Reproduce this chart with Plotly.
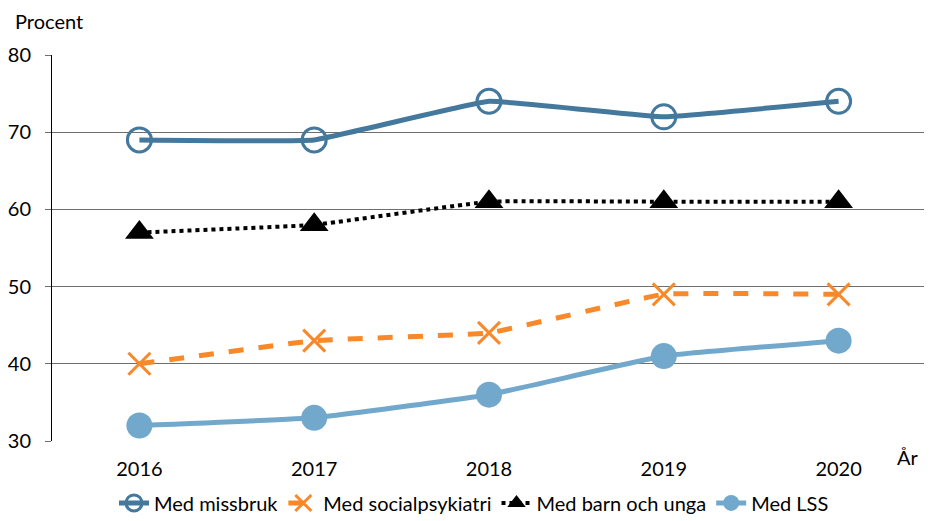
import plotly.graph_objects as go

years = ["2016", "2017", "2018", "2019", "2020"]
missbruk = [69, 69, 74, 72, 74]
socialpsykiatri = [40, 43, 44, 49, 49]
barn_unga = [57, 58, 61, 61, 61]
lss = [32, 33, 36, 41, 43]

fig = go.Figure()
fig.add_trace(go.Scatter(
    x=years, y=missbruk, name="Med missbruk", mode="lines+markers",
    line=dict(color="#44789C", width=5, shape="spline", smoothing=0.25),
    marker=dict(symbol="circle-open", size=24, color="#44789C", line=dict(width=3, color="#44789C")),
))
fig.add_trace(go.Scatter(
    x=years, y=socialpsykiatri, name="Med socialpsykiatri", mode="lines+markers",
    line=dict(color="#F7892A", width=5, dash="dash", shape="spline", smoothing=0.25),
    marker=dict(symbol="x-thin-open", size=22, color="#F7892A", line=dict(width=3, color="#F7892A")),
))
fig.add_trace(go.Scatter(
    x=years, y=barn_unga, name="Med barn och unga", mode="lines+markers",
    line=dict(color="#000000", width=4, dash="dot", shape="spline", smoothing=0.25),
    marker=dict(symbol="triangle-up", size=25, color="#000000"),
))
fig.add_trace(go.Scatter(
    x=years, y=lss, name="Med LSS", mode="lines+markers",
    line=dict(color="#71A8CB", width=5, shape="spline", smoothing=0.25),
    marker=dict(symbol="circle", size=26, color="#71A8CB"),
))

font = "Lato, Open Sans, sans-serif"
fig.update_layout(
    width=932, height=521,
    margin=dict(l=43.5, r=13.5, t=47, b=88),
    plot_bgcolor="white", paper_bgcolor="white",
    font=dict(family=font, size=20, color="#000000"),
    showlegend=True,
    legend=dict(orientation="h", x=0.5, xanchor="center", xref="container",
                y=0.05, yanchor="middle", yref="container",
                font=dict(size=20), tracegroupgap=0),
    xaxis=dict(type="category", range=[-0.5, 4.5], showgrid=False, showline=False,
               ticks="", tickfont=dict(size=20), automargin=False, ticklabelstandoff=14),
    yaxis=dict(range=[30, 80], dtick=10, showgrid=True, gridcolor="#6f6f6f", gridwidth=1,
               showline=True, linecolor="#000000", linewidth=1, ticks="outside",
               ticklen=6, tickcolor="#6f6f6f", tickfont=dict(size=20), zeroline=False,
               automargin=False, ticklabelstandoff=10),
    annotations=[
        dict(text="Procent", xref="paper", yref="paper", x=-0.045, y=1.088,
             xanchor="left", yanchor="middle", showarrow=False, font=dict(size=20)),
        dict(text="År", xref="paper", yref="paper", x=0.979, y=-0.041,
             xanchor="center", yanchor="middle", showarrow=False, font=dict(size=20)),
    ],
)

fig.write_html("out.html")
